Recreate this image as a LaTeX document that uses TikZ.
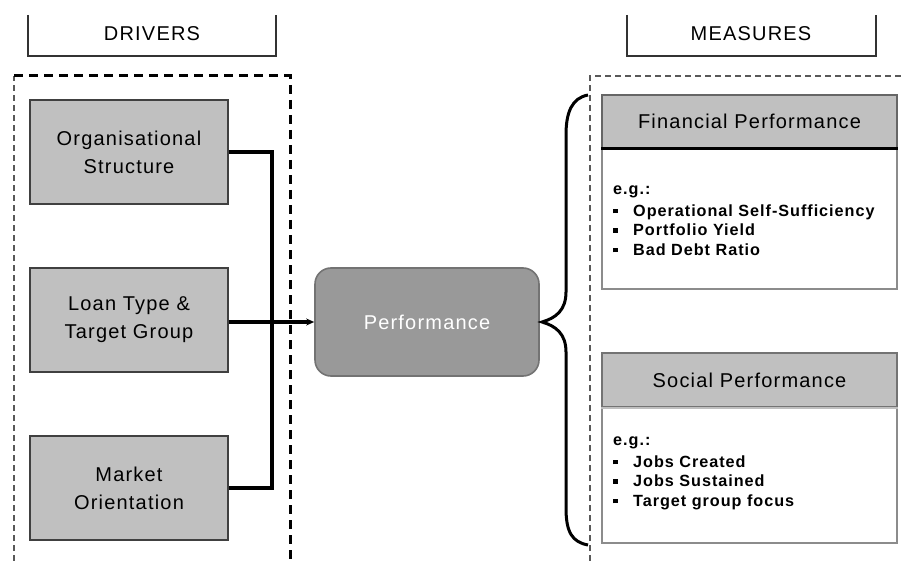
\documentclass[tikz,border=0pt]{standalone}
\usepackage{fontspec}
\setmainfont{Liberation Sans}[LetterSpace=6]
\usetikzlibrary{arrows.meta}
\definecolor{boxgray}{HTML}{C0C0C0}
\definecolor{perfgray}{HTML}{999999}
\tikzset{
  drvbox/.style={fill=boxgray, draw=black!75, line width=1.6pt, minimum width=198pt, minimum height=104pt, align=center, inner sep=0pt, font=\fontsize{20}{28}\selectfont},
  bracketline/.style={draw=black!80, line width=2pt},
  dashline/.style={line width=3pt, dash pattern=on 9pt off 6pt},
  dashlight/.style={line width=2.6pt, draw=black!65, dash pattern=on 6pt off 4pt},
  conn/.style={line width=3.2pt, black},
  headtxt/.style={font=\fontsize{20}{24}\selectfont},
  bodytxt/.style={font=\bfseries\fontsize{16.2}{19.5}\selectfont, align=left, anchor=north west, inner sep=0pt},
}
\newcommand{\sqb}{\makebox[20pt][l]{\raisebox{3pt}{\rule{4.5pt}{4.5pt}}}}
\begin{document}
\begin{tikzpicture}[x=1pt,y=-1pt]
\useasboundingbox (0,0) rectangle (901,561);
% header brackets
\draw[bracketline] (28,15) -- (28,56) -- (276,56) -- (276,15);
\node[headtxt] (drv) at (152,34) {DRIVERS};
\draw[bracketline] (627,15) -- (627,56) -- (876,56) -- (876,15);
\node[headtxt] (mea) at (751,34) {MEASURES};
% dashed frames
\draw[dashlight] (14,561) -- (14,76);
\draw[dashline] (14,76) -- (290,76) -- (290,561);
\draw[dashlight] (590,561) -- (590,76) -- (901,76);
% driver boxes
\node[drvbox] (org) at (129,152) {Organisational\\Structure};
\node[drvbox] (loan) at (129,320) {Loan Type \&\\Target Group};
\node[drvbox] (mkt) at (129,488) {Market\\Orientation};
% performance
\node[fill=perfgray, draw=black!55, line width=1.6pt, rounded corners=16pt, minimum width=224pt, minimum height=108pt, text=white, font=\fontsize{20}{24}\selectfont] (perf) at (427,322) {Performance};
% connectors
\coordinate (jt) at (272,152);
\coordinate (jb) at (272,488);
\draw[conn] (org.east |- jt) -- (jt) -- (jb) -- (mkt.east |- jb);
\draw[line width=4pt, -{Stealth[length=8pt,width=7pt]}] (loan.east |- perf.west) -- (perf.west);
% brace
\draw[line width=3pt] (588,95) .. controls (572,98) and (566,112) .. (566,135) -- (566,292)
  .. controls (566,310) and (556,318) .. (542,322)
  .. controls (556,326) and (566,334) .. (566,352) -- (566,508)
  .. controls (566,532) and (572,542) .. (588,545);
% financial box
\draw[draw=black!45, line width=2.4pt, fill=white] (602,95) rectangle (897,289);
\node[fill=boxgray, draw=black!60, line width=1.4pt, minimum width=295pt, minimum height=53pt, inner sep=0pt, headtxt] (fin) at (749.5,121.5) {Financial Performance};
\draw[line width=2.4pt] (fin.south west) -- (fin.south east);
\node[bodytxt] (finb) at (613,186) {e.g.:\\[2pt]\sqb Operational Self-Sufficiency\\\sqb Portfolio Yield\\\sqb Bad Debt Ratio};
% social box
\draw[draw=black!45, line width=2.4pt, fill=white] (602,353) rectangle (897,543);
\node[fill=boxgray, draw=black!55, line width=1.4pt, minimum width=295pt, minimum height=54pt, inner sep=0pt, headtxt] (soc) at (749.5,380) {Social Performance};
\draw[line width=1.6pt, black!25] (soc.south west) -- (soc.south east);
\node[bodytxt] (socb) at (613,437) {e.g.:\\[2pt]\sqb Jobs Created\\\sqb Jobs Sustained\\\sqb Target group focus};
\end{tikzpicture}
\end{document}
